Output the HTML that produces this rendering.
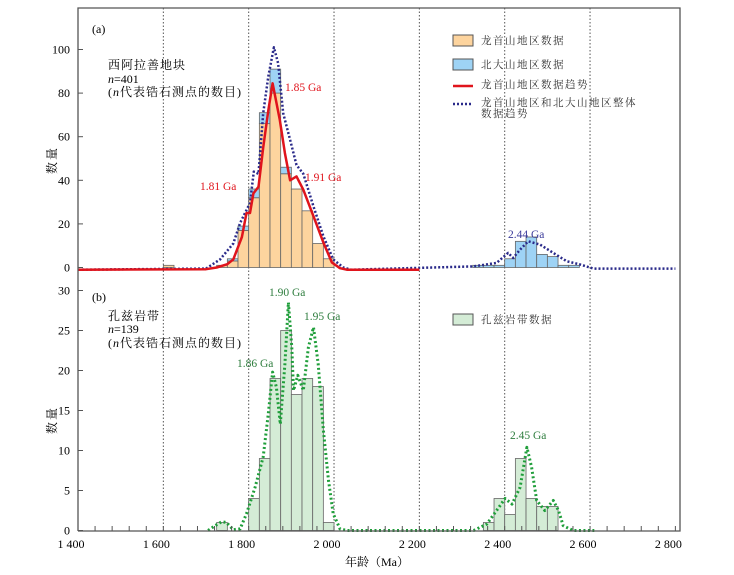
<!DOCTYPE html>
<html><head><meta charset="utf-8">
<style>
body{margin:0;background:#fff;}
svg{display:block;font-family:"Liberation Serif","Noto Serif CJK SC","Noto Sans CJK SC",serif;}
</style></head>
<body>
<svg id="chart" width="734" height="575" viewBox="0 0 734 575" xmlns="http://www.w3.org/2000/svg">
<g id="grid"></g><g id="bars"></g><g id="curves"></g><g id="axes"></g>
<text x="92" y="33" font-size="12">(a)</text>
<text x="108" y="69" font-size="12" letter-spacing="1">西阿拉善地块</text>
<text x="108" y="83" font-size="12"><tspan font-style="italic">n</tspan>=401</text>
<text x="108" y="96" font-size="12" letter-spacing="1">(<tspan font-style="italic">n</tspan>代表锆石测点的数目)</text>
<text x="92" y="301" font-size="12">(b)</text>
<text x="108" y="320" font-size="12" letter-spacing="1">孔兹岩带</text>
<text x="108" y="333" font-size="12"><tspan font-style="italic">n</tspan>=139</text>
<text x="108" y="347" font-size="12" letter-spacing="1">(<tspan font-style="italic">n</tspan>代表锆石测点的数目)</text>
<g font-size="10.5" fill="#333">
<rect x="453" y="35" width="20" height="11" fill="#fdd49e" stroke="#555"/>
<text x="481" y="44" letter-spacing="1.5">龙首山地区数据</text>
<rect x="453" y="59" width="20" height="11" fill="#9ed3f5" stroke="#555"/>
<text x="481" y="68" letter-spacing="1.5">北大山地区数据</text>
<line x1="453" y1="86" x2="473" y2="86" stroke="#e0141c" stroke-width="2.5"/>
<text x="481" y="88" letter-spacing="1.5">龙首山地区数据趋势</text>
<line x1="453" y1="104" x2="473" y2="104" stroke="#2a2a8a" stroke-width="2.5" stroke-dasharray="2 2"/>
<text x="481" y="106" letter-spacing="1.5">龙首山地区和北大山地区整体</text>
<text x="481" y="117" letter-spacing="1.5">数据趋势</text>
</g>
<g font-size="10.5" fill="#333">
<rect x="453" y="314" width="20" height="11" fill="#d4ecd6" stroke="#555"/>
<text x="481" y="323" letter-spacing="1.5">孔兹岩带数据</text>
</g>
<g font-size="11.5">
<text x="285" y="91" fill="#e0141c">1.85 Ga</text>
<text x="200" y="190" fill="#e0141c">1.81 Ga</text>
<text x="305" y="181" fill="#e0141c">1.91 Ga</text>
<text x="508" y="238" fill="#3a3a9a">2.44 Ga</text>
<text x="269" y="296" fill="#2e7d3e">1.90 Ga</text>
<text x="304" y="320" fill="#2e7d3e">1.95 Ga</text>
<text x="237" y="367" fill="#2e7d3e">1.86 Ga</text>
<text x="510" y="439" fill="#2e7d3e">2.45 Ga</text>
</g>
<text x="377" y="566" font-size="12" text-anchor="middle">年龄（Ma）</text>
<text transform="translate(56,160) rotate(-90)" font-size="12" text-anchor="middle" letter-spacing="2">数量</text>
<text transform="translate(56,420) rotate(-90)" font-size="12" text-anchor="middle" letter-spacing="2">数量</text>
</svg>
<script>
// ---- data ----
const binWidth = 25;
const aBinStarts = [1600,1725,1750,1775,1800,1825,1850,1875,1900,1925,1950,1975,2325,2350,2375,2400,2425,2450,2475,2500,2525,2550];
const aLongshou  = [1,   1,   3,   17,  32,  66,  80,  43,  36,  26,  11,  4,   0,   0,   0,   0,   0,   0,   0,   0,   0,   0];
const aBeidashan = [0,   0,   1,   2,   4,   5,   11,  3,   0,   0,   0,   0,   1,   1,   1,   4,   12,  14,  6,   5,   1,   1];
const bBinStarts = [1725,1800,1825,1850,1875,1900,1925,1950,1975,2350,2375,2400,2425,2450,2475,2500];
const bCounts    = [1,   4,   9,   19,  25,  17,  19,  18,  1,   1,   4,   2,   9,   4,   3,   3];
const redAges = [1400,1700,1725,1750,1764,1784,1795,1803,1811,1823,1834,1846,1856,1873,1885,1897,1912,1928,1952,1975,1995,2014,2030,2200];
const redVals = [-1,-0.8,0,1.5,3.7,14,25,25,34,37,55,72,84.5,67.7,52.5,40,41.8,35.7,23.5,11.4,2.3,-0.3,-1,-1];
const blueAges = [1400,1700,1733,1764,1780,1803,1812,1823,1834,1846,1859,1869,1881,1897,1912,1928,1952,1975,1998,2022,2040,2327,2381,2408,2420,2436,2455,2483,2514,2545,2576,2608,2800];
const blueVals = [-1,-0.5,3.7,11,20.4,29.6,44,43,70.8,87.6,101,93.7,70.8,58.6,47,43,28,14.3,3.7,0,-1,0.5,2.1,6.7,4.4,8.2,12,10.5,6.7,2.9,1.4,-0.5,-0.5];
const greenAges = [1705,1721,1737,1748,1764,1780,1795,1815,1834,1846,1856,1865,1874,1885,1893,1901,1905,1915,1928,1940,1952,1963,1975,1987,1998,2014,2030,2327,2358,2381,2401,2417,2436,2452,2463,2475,2494,2514,2526,2537,2560,2610];
const greenVals = [0,0.6,1.1,1,0.1,0.2,2.1,5.4,9.2,14.6,19.8,17.9,13.3,20.8,28.5,22.9,17.5,19.4,17.5,22.9,25.4,20.8,12.5,6.25,2.1,0.2,0,0,0.8,2.5,4,3.3,5.4,10.4,7.9,3.75,2.5,3.75,2.5,0.6,0,0];
const xTicks = [1400,1600,1800,2000,2200,2400,2600,2800];
const xTickLabels = ["1 400","1 600","1 800","2 000","2 200","2 400","2 600","2 800"];
const aTicks = [0,20,40,60,80,100];
const bTicks = [0,5,10,15,20,25,30];
// ---- scales ----
const X0=78, X1=680, TOP=8, BOT=531;
const x = a => 78 + (a-1400)*0.4267;
const ya = v => 267.5 - v*2.18;
const yb = v => 530.5 - v*8;
const NS='http://www.w3.org/2000/svg';
function mk(parent, tag, attrs){const e=document.createElementNS(NS,tag);for(const k in attrs)e.setAttribute(k,attrs[k]);document.getElementById(parent).appendChild(e);return e;}
// dotted verticals
[1600,1800,2000,2200,2400,2600].forEach(t=>{
  const l=mk('grid','line',{x1:x(t),x2:x(t),y1:TOP,y2:BOT,stroke:'#555','stroke-width':1,'stroke-dasharray':'1.5 2'});
  
  
});
// bars panel a
aBinStarts.forEach((s,i)=>{
  const o=aLongshou[i], b=aBeidashan[i];
  if(o>0){const r=mk('bars','rect',{x:x(s),y:ya(o),width:x(s+binWidth)-x(s),height:ya(0)-ya(o),fill:'#fdd49e',stroke:'#666','stroke-width':0.8});
    
    }
  if(b>0){const r=mk('bars','rect',{x:x(s),y:ya(o+b),width:x(s+binWidth)-x(s),height:ya(o)-ya(o+b),fill:'#9ed3f5',stroke:'#666','stroke-width':0.8});
    
    }
});
bBinStarts.forEach((s,i)=>{
  const v=bCounts[i];
  const r=mk('bars','rect',{x:x(s),y:yb(v),width:x(s+binWidth)-x(s),height:yb(0)-yb(v),fill:'#d4ecd6',stroke:'#666','stroke-width':0.8});
  
  
});
function path(ages,vals,ys){return ages.map((a,i)=>(i?'L':'M')+x(a).toFixed(1)+','+ys(vals[i]).toFixed(1)).join('');}
const pb=mk('curves','path',{d:path(blueAges,blueVals,ya),fill:'none',stroke:'#2a2a8a','stroke-width':2.5,'stroke-dasharray':'2 2','stroke-linejoin':'round'});


const pr=mk('curves','path',{d:path(redAges,redVals,ya),fill:'none',stroke:'#e0141c','stroke-width':2.5,'stroke-linejoin':'round'});


const pg=mk('curves','path',{d:path(greenAges,greenVals,yb),fill:'none',stroke:'#1f9e3a','stroke-width':3,'stroke-dasharray':'2 2.5','stroke-linejoin':'round'});


// frame
const fr=mk('axes','path',{d:`M${X0},${BOT}V${TOP}H${X1}V${BOT}H${X0}`,fill:'none',stroke:'#555','stroke-width':1.3});


// x ticks
for(let t=1400;t<=2800;t+=40){
  const tk=mk('axes','line',{x1:x(t),x2:x(t),y1:BOT,y2:BOT-5,stroke:'#555'});
  
  
}
xTicks.forEach((t,i)=>{
  const tx=mk('axes','text',{x:x(t)-7,y:548,'font-size':12,'text-anchor':'middle'});
  tx.textContent=xTickLabels[i];
  
  
});
aTicks.forEach(v=>{
  const l=mk('axes','line',{x1:X0,x2:X0+5,y1:ya(v),y2:ya(v),stroke:'#555'});
  
  
  const t=mk('axes','text',{x:70,y:ya(v)+4,'font-size':12,'text-anchor':'end'});
  t.textContent=v;
  
  
});
bTicks.forEach(v=>{
  const l=mk('axes','line',{x1:X0,x2:X0+5,y1:yb(v),y2:yb(v),stroke:'#555'});
  
  
  const t=mk('axes','text',{x:70,y:yb(v)+4,'font-size':12,'text-anchor':'end'});
  t.textContent=v;
  
  
});
</script>
</body></html>
